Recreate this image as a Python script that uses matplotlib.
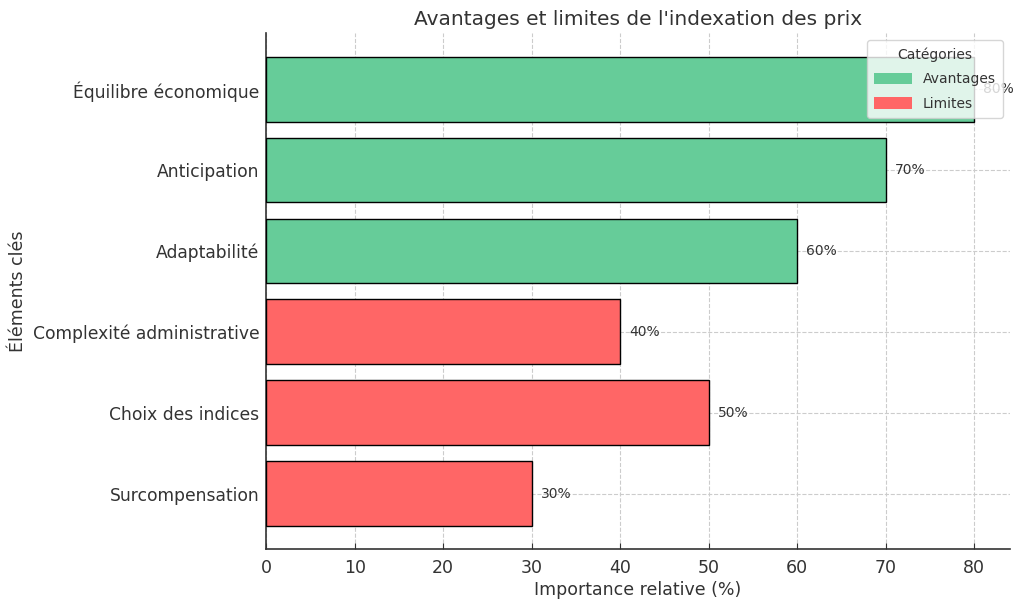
import matplotlib
matplotlib.use('Agg')
import matplotlib.pyplot as plt
from matplotlib.patches import Patch

# données
elements = ['Équilibre économique', 'Anticipation', 'Adaptabilité',
            'Complexité administrative', 'Choix des indices', 'Surcompensation']
valeurs = [80, 70, 60, 40, 50, 30]
categories = ['Avantages', 'Avantages', 'Avantages', 'Limites', 'Limites', 'Limites']
couleurs_cat = {'Avantages': '#66CC99', 'Limites': '#FF6666'}

plt.rcParams['font.family'] = ['DejaVu Sans']
plt.rcParams['text.color'] = '#333333'
plt.rcParams['axes.labelcolor'] = '#333333'
plt.rcParams['xtick.color'] = '#333333'
plt.rcParams['ytick.color'] = '#333333'

fig, ax = plt.subplots(figsize=(10.24, 6.09), dpi=100)
fig.subplots_adjust(left=0.26, right=0.986, top=0.945, bottom=0.098)

y = list(range(len(elements)))[::-1]
cols = [couleurs_cat[c] for c in categories]
bars = ax.barh(y, valeurs, color=cols, edgecolor='black', linewidth=1.0, height=0.8, zorder=3)

for b, v in zip(bars, valeurs):
    ax.text(v + 1, b.get_y() + b.get_height() / 2, f'{v}%', va='center', ha='left',
            fontsize=10, color='#333333', zorder=2)

ax.set_yticks(y)
ax.set_yticklabels(elements, fontsize=12.3)
ax.tick_params(axis='x', labelsize=12.5, pad=7)
ax.tick_params(axis='both', direction='in', length=4, color='#333333')
ax.tick_params(axis='y', pad=5)
ax.set_xlim(0, 84)
ax.set_xticks(range(0, 90, 10))

ax.set_title("Avantages et limites de l'indexation des prix", fontsize=14.5)
ax.set_xlabel('Importance relative (%)', fontsize=12.5, labelpad=3)
ax.set_ylabel('Éléments clés', fontsize=12.5, labelpad=4)

ax.grid(True, linestyle='--', color='#cccccc', linewidth=0.8, zorder=0)
ax.set_axisbelow(True)
for s in ['top', 'right']:
    ax.spines[s].set_visible(False)
for s in ['left', 'bottom']:
    ax.spines[s].set_color('#333333')
    ax.spines[s].set_linewidth(1.2)

handles = [Patch(facecolor=couleurs_cat[k], label=k) for k in ['Avantages', 'Limites']]
leg = ax.legend(handles=handles, title='Catégories', loc='upper right', fontsize=10,
                title_fontsize=10, framealpha=0.8, labelspacing=0.75,
                handleheight=0.9, handlelength=2.7, borderaxespad=0.5, borderpad=0.5)
leg.set_zorder(5)

plt.savefig('out.png', dpi=100)
